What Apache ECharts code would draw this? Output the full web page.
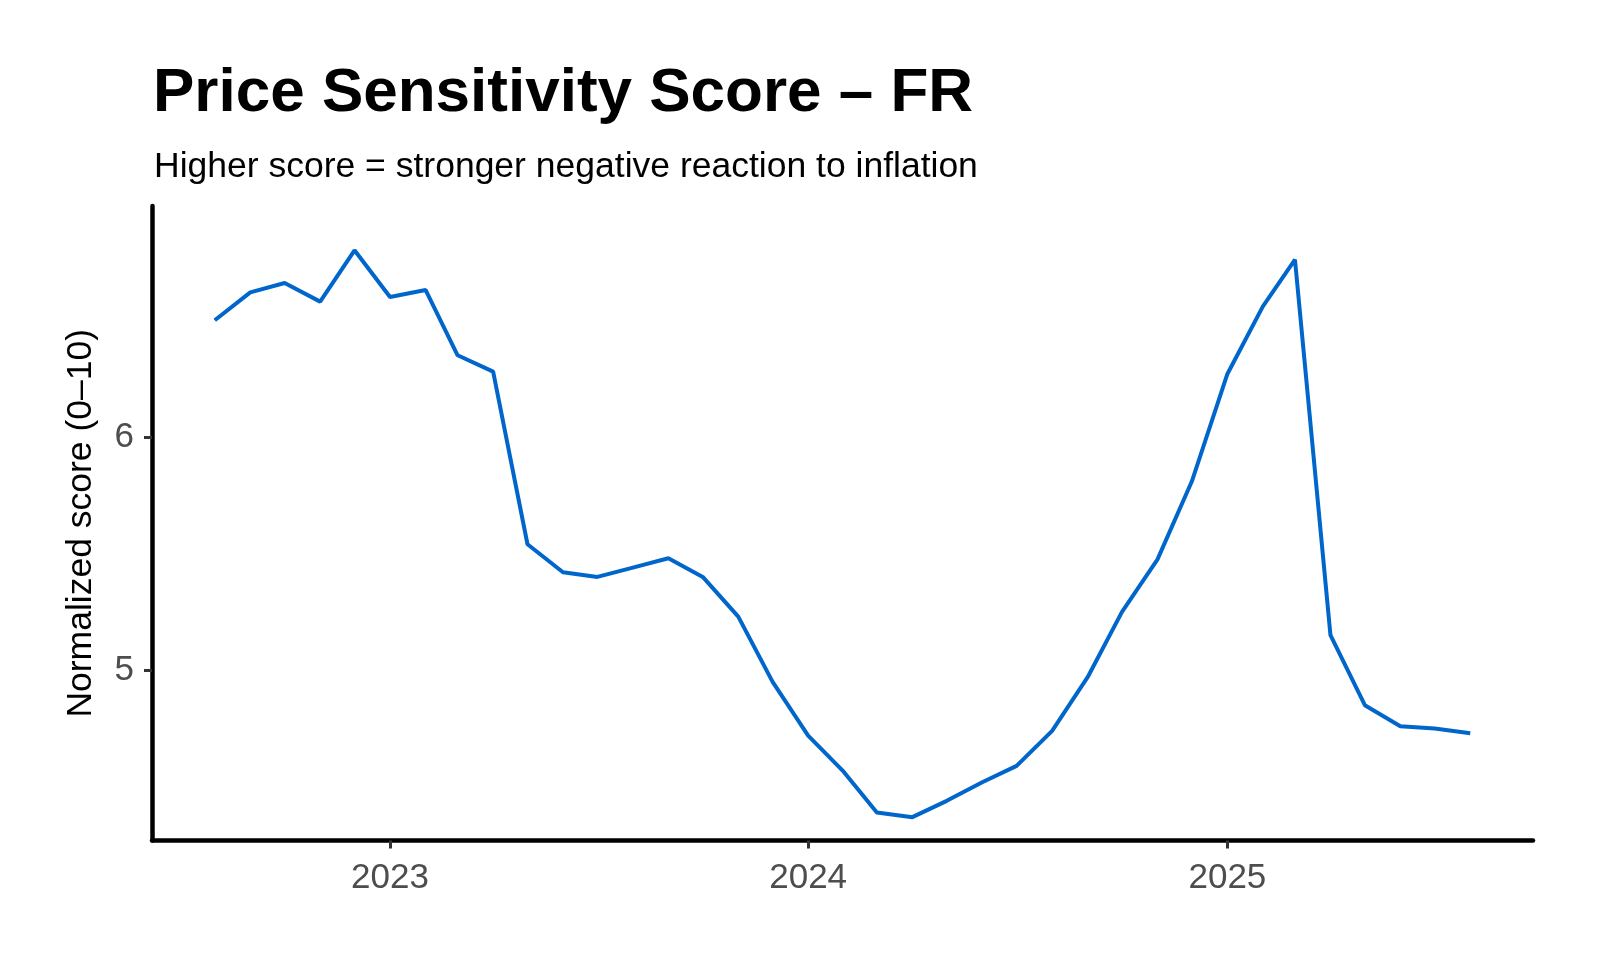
<!DOCTYPE html>
<html>
<head>
<meta charset="utf-8">
<script src="https://cdn.jsdelivr.net/npm/echarts@6/dist/echarts.min.js"></script>
<style>
html,body{margin:0;padding:0;background:#fff;}
#chart{width:1600px;height:960px;}
</style>
</head>
<body>
<div id="chart"></div>
<script>
var months = ['2022-08-01','2022-09-01','2022-10-01','2022-11-01','2022-12-01',
  '2023-01-01','2023-02-01','2023-03-01','2023-04-01','2023-05-01','2023-06-01','2023-07-01','2023-08-01','2023-09-01','2023-10-01','2023-11-01','2023-12-01',
  '2024-01-01','2024-02-01','2024-03-01','2024-04-01','2024-05-01','2024-06-01','2024-07-01','2024-08-01','2024-09-01','2024-10-01','2024-11-01','2024-12-01',
  '2025-01-01','2025-02-01','2025-03-01','2025-04-01','2025-05-01','2025-06-01','2025-07-01','2025-08-01'];
var scores = [6.50,6.62,6.66,6.58,6.80,
  6.60,6.63,6.35,6.28,5.54,5.42,5.40,5.44,5.48,5.40,5.23,4.95,
  4.72,4.565,4.39,4.37,4.44,4.52,4.59,4.74,4.97,5.25,5.475,5.81,
  6.27,6.56,6.76,5.15,4.85,4.76,4.75,4.73];
var xTickDates = ['2023-01-01','2024-01-01','2025-01-01'];
var yTickValues = [5, 6];
var yMin = 4.27, yMax = 6.99;

function ts(s){ var p = s.split('-'); return Date.UTC(+p[0], +p[1]-1, +p[2]); }
var first = ts(months[0]), last = ts(months[months.length-1]);
var pad = (last - first) * 0.05;
var xTicks = xTickDates.map(ts);

var chart = echarts.init(document.getElementById('chart'));
var FONT = 'Liberation Sans';
chart.setOption({
  animation: false,
  backgroundColor: '#ffffff',
  textStyle: { fontFamily: FONT },
  title: [
    { text: 'Price Sensitivity Score \u2013 FR', left: 148, top: 58,
      textStyle: { fontFamily: FONT, fontSize: 62, fontWeight: 'bold', color: '#000' } },
    { text: 'Higher score = stronger negative reaction to inflation', left: 149, top: 144,
      textStyle: { fontFamily: FONT, fontSize: 35.5, fontWeight: 'normal', color: '#000' } }
  ],
  grid: { left: 152, right: 67, top: 206, bottom: 119.5, containLabel: false },
  xAxis: {
    type: 'value',
    min: first - pad,
    max: last + pad,
    axisLine: { show: true, lineStyle: { color: '#000', width: 4.5 } },
    axisTick: { show: true, length: 8, lineStyle: { color: '#333', width: 3 },
      customValues: xTicks },
    axisLabel: { color: '#4d4d4d', fontSize: 35, fontFamily: FONT, margin: 20,
      customValues: xTicks,
      formatter: function(v){ return String(new Date(v).getUTCFullYear()); } },
    splitLine: { show: false }
  },
  yAxis: {
    type: 'value',
    min: yMin,
    max: yMax,
    name: 'Normalized score (0\u201310)',
    nameLocation: 'middle',
    nameRotate: 90,
    nameGap: 53,
    nameTextStyle: { color: '#000', fontSize: 35.5, fontFamily: FONT },
    axisLine: { show: true, lineStyle: { color: '#000', width: 4.5 } },
    axisTick: { show: true, length: 8, lineStyle: { color: '#333', width: 3 },
      customValues: yTickValues },
    axisLabel: { color: '#4d4d4d', fontSize: 35, fontFamily: FONT, margin: 18,
      customValues: yTickValues },
    splitLine: { show: false }
  },
  series: [{
    type: 'line',
    data: months.map(function(m, i){ return [ts(m), scores[i]]; }),
    showSymbol: false,
    symbol: 'none',
    lineStyle: { color: '#0066cc', width: 4 },
    itemStyle: { color: '#0066cc' }
  }]
});
</script>
</body>
</html>
